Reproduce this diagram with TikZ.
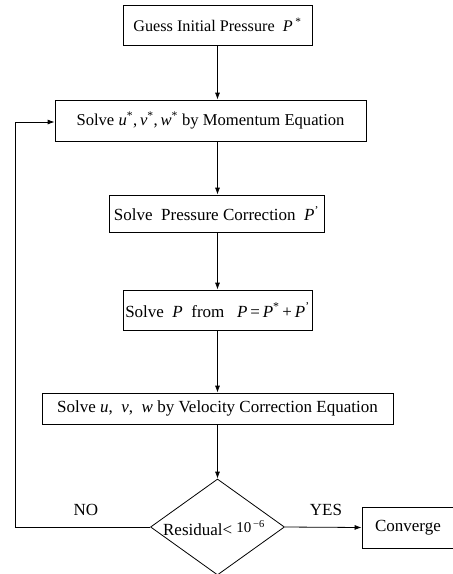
\documentclass[tikz,border=0pt]{standalone}
\usepackage{fontspec}
\setmainfont{Liberation Serif}
\usetikzlibrary{shapes.geometric,arrows.meta}
\newcommand{\var}[1]{\textit{#1}}
\newcommand{\sstar}{\textsuperscript{*}}
\newcommand{\sprime}{\textsuperscript{'}}
\begin{document}
\begin{tikzpicture}[x=1pt,y=-1pt,
  every node/.style={font=\fontsize{17}{20}\selectfont},
  smalltext/.style={font=\fontsize{16.2}{19}\selectfont},
  stepbox/.style={draw, line width=0.8pt, inner sep=0pt, rectangle},
  testbox/.style={draw, line width=0.8pt, inner sep=0pt, diamond},
  flow/.style={line width=0.8pt, -{Latex[length=7pt,width=5pt]}},
  plain/.style={line width=0.8pt}]
\useasboundingbox (0,0) rectangle (453,574);
\clip (0,0) rectangle (453,574);
\fill[white] (0,0) rectangle (453,574);

% process steps
\node[stepbox, smalltext, minimum width=189, minimum height=40] (guess) at (217.5,25)
  {Guess Initial Pressure \ \var{P}\,\sstar};
\node[stepbox, minimum width=311, minimum height=41] (mom) at (210.5,120.5)
  {\fontsize{16.6}{20}\selectfont Solve \var{u}\sstar,\,\var{v}\sstar,\,\var{w}\sstar\ by Momentum Equation};
\node[stepbox, minimum width=215, minimum height=37] (pc) at (216.5,213.5)
  {Solve \ Pressure Correction \ \var{P}\sprime};
\node[stepbox, minimum width=189, minimum height=40] (pu) at (217.5,310)
  {Solve \ \var{P} \ from \ \ \var{P}\,=\,\var{P}\sstar\,+\,\var{P}\sprime};
\node[stepbox, minimum width=351, minimum height=31] (vel) at (217.5,408.5)
  {Solve \var{u}, \ \var{v}, \ \var{w} by Velocity Correction Equation};
\node[testbox, minimum width=134, minimum height=96] (res) at (217.5,527) {};
\node at (214,528) {Residual\raisebox{0.5pt}{<}\ \raisebox{3pt}{\fontsize{15}{17}\selectfont 10\textsuperscript{\,−6}}};
\node[stepbox, minimum width=92, minimum height=41] (conv) at (408,527.5) {Converge};

% branch labels
\node (no) at (86,510) {NO};
\node (yes) at (326,510) {YES};

% main flow
\draw[flow] (guess.south) -- (guess.south |- mom.north);
\draw[flow] (guess.south |- mom.south) -- (guess.south |- pc.north);
\draw[flow] (guess.south |- pc.south) -- (pu.north);
\draw[flow] (pu.south) -- (vel.north);
\draw[flow] (vel.south) -- (res.north);
\draw[flow] (res.east) -- (conv.west);

% loop back when not converged
\coordinate (lb) at (15,527);
\coordinate (lt) at (15,122);
\draw[plain] (res.west) -- (lb) -- (lt);
\draw[flow] (lt) -- (lt -| mom.west);
\end{tikzpicture}
\end{document}
